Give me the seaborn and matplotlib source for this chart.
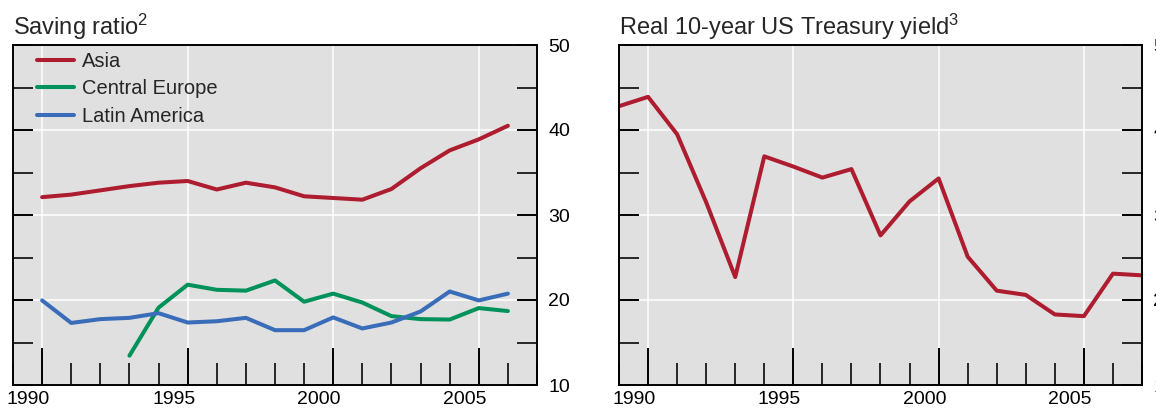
import numpy as np
import pandas as pd
import matplotlib
matplotlib.use("Agg")
import matplotlib.pyplot as plt
import matplotlib.transforms as mtransforms
from matplotlib.ticker import MultipleLocator, FormatStrFormatter
import seaborn as sns

# ---- data ----
years = list(range(1990, 2007))
asia = [32.1, 32.4, 32.9, 33.4, 33.8, 34.0, 33.0, 33.8, 33.25, 32.2, 32.0, 31.8, 33.06, 35.5, 37.6, 38.9, 40.5]
central_europe = [np.nan, np.nan, np.nan, 13.45, 19.1, 21.8, 21.2, 21.1, 22.3, 19.8, 20.75, 19.7, 18.1, 17.75, 17.7, 19.05, 18.7]
latin_america = [19.95, 17.3, 17.75, 17.9, 18.45, 17.35, 17.5, 17.9, 16.45, 16.45, 17.95, 16.65, 17.35, 18.65, 21.0, 19.95, 20.75]
series_names = ["Asia", "Central Europe", "Latin America"]

yield_years = list(range(1989, 2008))
real_yield = [4.28, 4.39, 3.95, 3.15, 2.27, 3.69, 3.57, 3.44, 3.54, 2.76, 3.16, 3.43, 2.51, 2.11, 2.06, 1.83, 1.81, 2.31, 2.29]

title_left = "Saving ratio$^{2}$"
title_right = "Real 10-year US Treasury yield$^{3}$"

# ---- style ----
colors = {"Asia": "#AE1C30", "Central Europe": "#00925A", "Latin America": "#3A6DB9"}
sns.set_style("white", {"axes.facecolor": "#E0E0E0"})
plt.rcParams["font.family"] = ["Liberation Sans", "DejaVu Sans"]
plt.rcParams["mathtext.fontset"] = "custom"
plt.rcParams["mathtext.rm"] = "Liberation Sans"
plt.rcParams["mathtext.it"] = "Liberation Sans"
plt.rcParams["mathtext.default"] = "regular"

W, H = 1156, 408
fig = plt.figure(figsize=(W / 100, H / 100), dpi=100)
ax1 = fig.add_axes([13 / W, 1 - 385 / H, 524 / W, 340 / H])
ax2 = fig.add_axes([619 / W, 1 - 385 / H, 523 / W, 340 / H])

df = pd.DataFrame({
    "year": years * 3,
    "value": asia + central_europe + latin_america,
    "series": sum([[n] * len(years) for n in series_names], []),
}).dropna()

LW = 2.9
sns.lineplot(data=df, x="year", y="value", hue="series", hue_order=series_names,
             palette=colors, linewidth=LW, ax=ax1, legend=True)
dfy = pd.DataFrame({"year": yield_years, "value": real_yield})
sns.lineplot(data=dfy, x="year", y="value", color=colors["Asia"], linewidth=LW, ax=ax2)

shift = mtransforms.ScaledTranslation(-14 / 100, 0, fig.dpi_scale_trans)

def style_axis(ax, ylo, yhi, ymaj, ymin):
    ax.set_facecolor("#E0E0E0")
    ax.set_xlim(1989, 2007)
    ax.set_ylim(ylo, yhi)
    ax.set_xlabel("")
    ax.set_ylabel("")
    ax.xaxis.set_major_locator(MultipleLocator(5))
    ax.xaxis.set_minor_locator(MultipleLocator(1))
    ax.yaxis.set_major_locator(MultipleLocator(ymaj))
    ax.yaxis.set_minor_locator(MultipleLocator(ymin))
    ax.yaxis.set_major_formatter(FormatStrFormatter("%d"))
    ax.grid(True, which="major", color="white", linewidth=1.1)
    ax.set_axisbelow(True)
    for s in ax.spines.values():
        s.set_visible(True)
        s.set_color("black")
        s.set_linewidth(1.4)
    ax.tick_params(axis="x", which="major", direction="in", length=27, width=1.4,
                   bottom=True, top=False, labelsize=14, pad=4, colors="black")
    ax.tick_params(axis="x", which="minor", direction="in", length=16, width=1.4,
                   bottom=True, top=False)
    ax.tick_params(axis="y", which="both", direction="in", length=14.5, width=1.4,
                   left=True, right=True, labelleft=False, labelright=True,
                   labelsize=14, pad=8)
    ax.tick_params(axis="y", which="major", colors="black")
    for lab in ax.get_xticklabels():
        lab.set_transform(lab.get_transform() + shift)

style_axis(ax1, 10, 50, 10, 5)
style_axis(ax2, 1, 5, 1, 0.5)

ax1.set_title(title_left, loc="left", fontsize=17, pad=7)
ax2.set_title(title_right, loc="left", fontsize=17, pad=7)

handles, labels = ax1.get_legend_handles_labels()
for h in handles:
    h.set_linewidth(LW)
ax1.legend(handles, labels, loc="upper left", bbox_to_anchor=(0.046, 0.98),
           frameon=False, fontsize=14.5, handlelength=1.85, handletextpad=0.4,
           labelspacing=0.42, borderpad=0, borderaxespad=0)

fig.savefig("out.png", dpi=100)
